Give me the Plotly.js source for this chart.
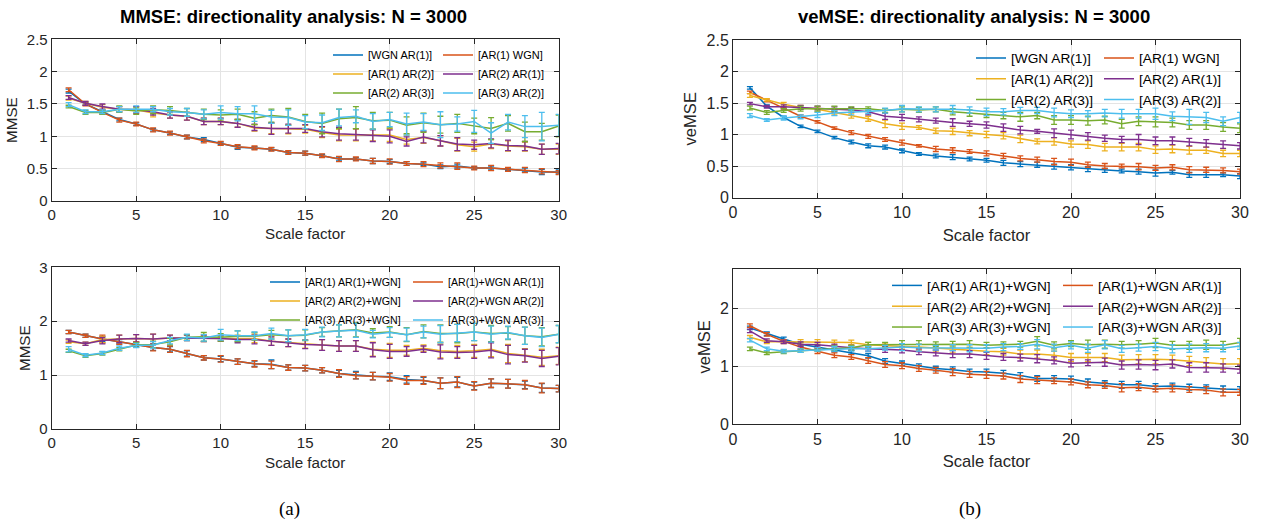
<!DOCTYPE html>
<html>
<head>
<meta charset="utf-8">
<script src="https://cdn.plot.ly/plotly-3.0.1.min.js"></script>
<style>html,body{margin:0;padding:0;background:#fff;}#chart{width:1261px;height:522px;}</style>
</head>
<body>
<div id="chart"></div>
<script>
// ---------- data ----------
const scaleFactor = [1,2,3,4,5,6,7,8,9,10,11,12,13,14,15,16,17,18,19,20,21,22,23,24,25,26,27,28,29,30];

const namesTop = ['[WGN AR(1)]','[AR(1) WGN]','[AR(1) AR(2)]','[AR(2) AR(1)]','[AR(2) AR(3)]','[AR(3) AR(2)]'];
const namesBottom = ['[AR(1) AR(1)+WGN]','[AR(1)+WGN AR(1)]','[AR(2) AR(2)+WGN]','[AR(2)+WGN AR(2)]','[AR(3) AR(3)+WGN]','[AR(3)+WGN AR(3)]'];

// MMSE, top (a)
const mmseTopBlue   = [1.70,1.50,1.38,1.26,1.19,1.10,1.05,0.99,0.95,0.89,0.83,0.82,0.80,0.75,0.74,0.70,0.65,0.65,0.62,0.61,0.58,0.57,0.53,0.54,0.51,0.51,0.49,0.48,0.45,0.45];
const mmseTopOrange = [1.72,1.50,1.37,1.25,1.19,1.10,1.05,0.99,0.93,0.89,0.84,0.82,0.80,0.75,0.74,0.70,0.65,0.65,0.62,0.61,0.58,0.57,0.55,0.54,0.51,0.51,0.49,0.48,0.46,0.44];
const mmseTopYellow = [1.59,1.51,1.45,1.42,1.41,1.36,1.33,1.31,1.23,1.23,1.20,1.13,1.12,1.11,1.11,1.06,1.02,1.02,1.02,1.02,0.95,0.98,0.93,0.87,0.84,0.88,0.85,0.84,0.80,0.80];
const mmseTopPurple = [1.60,1.51,1.46,1.42,1.41,1.38,1.33,1.31,1.23,1.23,1.20,1.14,1.12,1.12,1.12,1.07,1.04,1.03,1.01,1.00,0.92,0.99,0.93,0.88,0.87,0.89,0.86,0.85,0.80,0.81];
const mmseTopGreen  = [1.46,1.37,1.37,1.42,1.39,1.41,1.40,1.37,1.34,1.33,1.34,1.28,1.32,1.30,1.23,1.20,1.27,1.29,1.24,1.25,1.17,1.21,1.18,1.20,1.16,1.12,1.20,1.07,1.07,1.16];
const mmseTopCyan   = [1.49,1.38,1.38,1.42,1.42,1.42,1.38,1.37,1.34,1.37,1.35,1.35,1.30,1.29,1.22,1.21,1.29,1.31,1.23,1.26,1.19,1.22,1.18,1.19,1.23,1.05,1.22,1.15,1.15,1.17];
const mmseTopBlueErr   = [0.03,0.02,0.02,0.02,0.02,0.02,0.02,0.03,0.03,0.02,0.03,0.02,0.02,0.02,0.03,0.02,0.03,0.02,0.04,0.03,0.03,0.02,0.03,0.03,0.02,0.03,0.02,0.03,0.04,0.03];
const mmseTopOrangeErr = [0.03,0.03,0.03,0.03,0.03,0.03,0.03,0.03,0.03,0.03,0.03,0.03,0.03,0.03,0.03,0.03,0.04,0.03,0.04,0.04,0.03,0.04,0.04,0.05,0.03,0.04,0.03,0.04,0.04,0.03];
const mmseTopYellowErr = [0.03,0.03,0.04,0.04,0.05,0.06,0.05,0.06,0.05,0.05,0.06,0.05,0.08,0.07,0.06,0.08,0.09,0.09,0.09,0.10,0.07,0.09,0.08,0.10,0.07,0.07,0.08,0.07,0.08,0.08];
const mmseTopPurpleErr = [0.03,0.03,0.04,0.04,0.05,0.05,0.05,0.06,0.05,0.05,0.06,0.05,0.09,0.07,0.06,0.08,0.10,0.09,0.09,0.10,0.07,0.09,0.08,0.10,0.07,0.07,0.08,0.07,0.08,0.08];
const mmseTopGreenErr  = [0.02,0.03,0.03,0.05,0.05,0.06,0.06,0.06,0.08,0.08,0.08,0.10,0.10,0.13,0.11,0.16,0.15,0.17,0.13,0.12,0.13,0.15,0.13,0.14,0.12,0.17,0.12,0.15,0.13,0.17];
const mmseTopCyanErr   = [0.03,0.03,0.03,0.04,0.05,0.04,0.05,0.06,0.07,0.10,0.11,0.12,0.10,0.12,0.10,0.12,0.13,0.10,0.12,0.11,0.17,0.13,0.20,0.11,0.17,0.16,0.12,0.17,0.22,0.17];

// MMSE, bottom (a)
const mmseBotBlue   = [1.80,1.73,1.67,1.62,1.57,1.51,1.48,1.40,1.32,1.30,1.25,1.21,1.20,1.14,1.13,1.09,1.03,1.00,0.98,0.97,0.92,0.90,0.85,0.87,0.80,0.85,0.84,0.82,0.76,0.75];
const mmseBotOrange = [1.80,1.73,1.67,1.62,1.57,1.51,1.48,1.40,1.32,1.30,1.25,1.21,1.19,1.14,1.13,1.09,1.03,0.99,0.98,0.96,0.90,0.90,0.85,0.87,0.80,0.85,0.84,0.82,0.76,0.75];
const mmseBotYellow = [1.62,1.58,1.66,1.67,1.68,1.67,1.69,1.69,1.68,1.68,1.68,1.68,1.63,1.60,1.58,1.56,1.54,1.54,1.48,1.46,1.46,1.50,1.45,1.44,1.45,1.48,1.40,1.37,1.33,1.36];
const mmseBotPurple = [1.64,1.58,1.64,1.67,1.68,1.67,1.69,1.69,1.68,1.68,1.66,1.66,1.63,1.60,1.57,1.56,1.54,1.54,1.47,1.44,1.44,1.48,1.43,1.42,1.43,1.46,1.38,1.36,1.31,1.35];
const mmseBotGreen  = [1.45,1.36,1.40,1.48,1.56,1.57,1.62,1.70,1.71,1.70,1.72,1.72,1.75,1.73,1.74,1.80,1.82,1.84,1.78,1.80,1.75,1.81,1.77,1.77,1.80,1.77,1.78,1.73,1.71,1.76];
const mmseBotCyan   = [1.48,1.37,1.41,1.50,1.55,1.56,1.64,1.70,1.69,1.75,1.73,1.73,1.77,1.73,1.75,1.80,1.82,1.83,1.76,1.79,1.75,1.80,1.76,1.78,1.80,1.76,1.79,1.73,1.70,1.76];
const mmseBotBlueErr   = [0.03,0.03,0.05,0.04,0.04,0.05,0.05,0.05,0.04,0.05,0.05,0.05,0.08,0.05,0.05,0.05,0.06,0.07,0.07,0.07,0.07,0.06,0.10,0.09,0.07,0.08,0.08,0.07,0.08,0.06];
const mmseBotOrangeErr = [0.03,0.03,0.07,0.05,0.05,0.06,0.06,0.06,0.04,0.06,0.05,0.06,0.07,0.05,0.05,0.05,0.07,0.06,0.07,0.07,0.07,0.07,0.10,0.10,0.08,0.08,0.08,0.08,0.09,0.06];
const mmseBotYellowErr = [0.03,0.03,0.06,0.07,0.07,0.09,0.05,0.05,0.06,0.05,0.06,0.08,0.08,0.07,0.08,0.10,0.10,0.10,0.13,0.13,0.09,0.06,0.13,0.11,0.12,0.14,0.17,0.12,0.15,0.16];
const mmseBotPurpleErr = [0.03,0.03,0.06,0.07,0.07,0.09,0.05,0.05,0.06,0.05,0.06,0.08,0.08,0.07,0.08,0.10,0.10,0.10,0.13,0.13,0.09,0.06,0.13,0.11,0.12,0.14,0.17,0.12,0.15,0.16];
const mmseBotGreenErr  = [0.03,0.03,0.03,0.03,0.04,0.06,0.06,0.05,0.08,0.07,0.10,0.07,0.08,0.11,0.10,0.08,0.11,0.13,0.08,0.10,0.13,0.12,0.16,0.17,0.16,0.15,0.12,0.16,0.17,0.16];
const mmseBotCyanErr   = [0.05,0.03,0.03,0.04,0.04,0.06,0.06,0.06,0.06,0.10,0.09,0.07,0.10,0.11,0.10,0.09,0.11,0.13,0.07,0.09,0.12,0.11,0.16,0.16,0.16,0.15,0.12,0.16,0.17,0.16];

// veMSE, top (b)
const vemseTopBlue   = [1.74,1.45,1.27,1.13,1.05,0.95,0.88,0.82,0.80,0.74,0.69,0.66,0.64,0.61,0.59,0.55,0.53,0.52,0.49,0.48,0.45,0.43,0.42,0.41,0.39,0.40,0.36,0.36,0.36,0.34];
const vemseTopOrange = [1.67,1.54,1.41,1.29,1.20,1.10,1.03,0.97,0.92,0.87,0.82,0.77,0.75,0.73,0.70,0.66,0.62,0.60,0.57,0.56,0.52,0.50,0.50,0.49,0.47,0.48,0.44,0.44,0.43,0.41];
const vemseTopYellow = [1.62,1.55,1.48,1.43,1.40,1.35,1.30,1.25,1.17,1.13,1.11,1.06,1.05,1.02,1.00,0.98,0.93,0.89,0.89,0.85,0.84,0.80,0.80,0.80,0.76,0.77,0.75,0.75,0.70,0.70];
const vemseTopPurple = [1.49,1.44,1.44,1.43,1.42,1.40,1.39,1.36,1.29,1.27,1.24,1.22,1.19,1.17,1.15,1.11,1.07,1.05,1.02,1.00,0.97,0.94,0.92,0.92,0.90,0.90,0.88,0.86,0.84,0.82];
const vemseTopGreen  = [1.42,1.35,1.38,1.41,1.41,1.41,1.41,1.41,1.38,1.40,1.39,1.40,1.36,1.34,1.32,1.30,1.28,1.30,1.23,1.23,1.22,1.23,1.17,1.21,1.20,1.19,1.15,1.15,1.12,1.10];
const vemseTopCyan   = [1.30,1.23,1.26,1.28,1.31,1.34,1.35,1.36,1.38,1.41,1.40,1.40,1.40,1.39,1.36,1.36,1.38,1.38,1.35,1.33,1.33,1.34,1.33,1.33,1.33,1.29,1.28,1.27,1.21,1.27];
const vemseTopBlueErr   = [0.02,0.02,0.02,0.02,0.02,0.02,0.03,0.03,0.03,0.03,0.02,0.03,0.04,0.03,0.03,0.04,0.04,0.04,0.04,0.04,0.04,0.03,0.03,0.04,0.05,0.03,0.04,0.04,0.03,0.04];
const vemseTopOrangeErr = [0.02,0.02,0.02,0.02,0.02,0.02,0.03,0.03,0.03,0.04,0.02,0.04,0.04,0.03,0.04,0.04,0.04,0.04,0.05,0.05,0.04,0.04,0.03,0.05,0.04,0.04,0.05,0.04,0.04,0.04];
const vemseTopYellowErr = [0.03,0.02,0.03,0.03,0.04,0.04,0.04,0.04,0.06,0.05,0.03,0.04,0.05,0.04,0.05,0.05,0.06,0.04,0.06,0.05,0.06,0.06,0.06,0.06,0.06,0.06,0.06,0.05,0.05,0.05];
const vemseTopPurpleErr = [0.02,0.02,0.03,0.03,0.03,0.04,0.04,0.05,0.05,0.05,0.04,0.04,0.06,0.04,0.05,0.06,0.06,0.03,0.07,0.07,0.06,0.05,0.05,0.08,0.06,0.06,0.06,0.06,0.06,0.05];
const vemseTopGreenErr  = [0.03,0.03,0.03,0.04,0.04,0.04,0.03,0.03,0.03,0.04,0.04,0.04,0.05,0.05,0.05,0.05,0.07,0.05,0.07,0.07,0.07,0.06,0.07,0.07,0.08,0.07,0.07,0.07,0.07,0.07];
const vemseTopCyanErr   = [0.03,0.02,0.03,0.03,0.04,0.04,0.04,0.03,0.04,0.05,0.04,0.04,0.06,0.05,0.06,0.05,0.05,0.05,0.07,0.06,0.05,0.06,0.07,0.07,0.09,0.07,0.12,0.08,0.07,0.08];

// veMSE, bottom (b)
const vemseBotBlue   = [1.66,1.56,1.47,1.38,1.33,1.28,1.24,1.18,1.09,1.05,1.00,0.96,0.94,0.91,0.90,0.88,0.84,0.79,0.79,0.78,0.73,0.70,0.68,0.68,0.65,0.66,0.64,0.63,0.61,0.60];
const vemseBotOrange = [1.70,1.55,1.43,1.33,1.26,1.19,1.16,1.10,1.03,1.01,0.96,0.93,0.90,0.86,0.85,0.83,0.78,0.76,0.75,0.73,0.68,0.67,0.63,0.64,0.61,0.62,0.60,0.59,0.55,0.55];
const vemseBotYellow = [1.50,1.42,1.42,1.42,1.42,1.41,1.41,1.37,1.35,1.34,1.33,1.31,1.29,1.27,1.26,1.25,1.21,1.21,1.19,1.15,1.15,1.15,1.11,1.12,1.12,1.11,1.09,1.07,1.04,1.04];
const vemseBotPurple = [1.61,1.44,1.42,1.38,1.37,1.34,1.32,1.30,1.29,1.28,1.25,1.23,1.21,1.21,1.18,1.16,1.15,1.13,1.10,1.05,1.06,1.07,1.02,1.03,1.02,1.04,0.98,0.98,0.97,0.95];
const vemseBotGreen  = [1.30,1.23,1.25,1.27,1.29,1.31,1.32,1.37,1.37,1.38,1.38,1.38,1.38,1.38,1.36,1.37,1.38,1.43,1.36,1.39,1.37,1.38,1.37,1.38,1.40,1.36,1.36,1.37,1.36,1.41];
const vemseBotCyan   = [1.45,1.30,1.26,1.27,1.29,1.30,1.30,1.30,1.32,1.33,1.32,1.32,1.32,1.31,1.31,1.33,1.34,1.38,1.32,1.36,1.31,1.37,1.30,1.32,1.34,1.30,1.31,1.32,1.31,1.35];
const vemseBotBlueErr   = [0.03,0.03,0.03,0.03,0.03,0.03,0.03,0.04,0.04,0.04,0.04,0.04,0.05,0.04,0.05,0.05,0.05,0.05,0.05,0.05,0.05,0.05,0.06,0.06,0.05,0.05,0.05,0.05,0.05,0.05];
const vemseBotOrangeErr = [0.03,0.03,0.03,0.04,0.04,0.04,0.04,0.05,0.05,0.05,0.05,0.05,0.06,0.05,0.06,0.05,0.06,0.06,0.05,0.05,0.05,0.05,0.07,0.06,0.05,0.06,0.05,0.06,0.06,0.05];
const vemseBotYellowErr = [0.03,0.03,0.03,0.04,0.04,0.04,0.04,0.04,0.05,0.05,0.05,0.05,0.06,0.06,0.06,0.06,0.07,0.07,0.07,0.07,0.07,0.07,0.08,0.08,0.08,0.08,0.08,0.08,0.09,0.09];
const vemseBotPurpleErr = [0.03,0.03,0.03,0.04,0.04,0.04,0.04,0.04,0.05,0.05,0.05,0.05,0.06,0.06,0.06,0.06,0.06,0.07,0.06,0.06,0.05,0.07,0.07,0.08,0.08,0.07,0.08,0.08,0.07,0.07];
const vemseBotGreenErr  = [0.03,0.03,0.03,0.03,0.03,0.04,0.04,0.04,0.04,0.06,0.06,0.04,0.05,0.06,0.05,0.05,0.05,0.08,0.06,0.05,0.08,0.07,0.06,0.06,0.08,0.07,0.07,0.08,0.07,0.07];
const vemseBotCyanErr   = [0.03,0.03,0.03,0.03,0.03,0.04,0.04,0.04,0.04,0.06,0.06,0.04,0.05,0.06,0.06,0.06,0.05,0.08,0.06,0.06,0.07,0.07,0.06,0.06,0.07,0.07,0.07,0.07,0.06,0.06];

const colors = ['#0072BD','#D95319','#EDB120','#7E2F8E','#77AC30','#4DBEEE'];

// ---------- build ----------
const FONT = 'Liberation Sans, Arial, Helvetica, sans-serif';
const W = 1261, H = 522;
const px = v => v / W;
const py = v => 1 - v / H;

const panels = [
  {xa:'x',  ya:'y',  names:namesTop,    legs:['legend','legend2'],
   vals:[mmseTopBlue,mmseTopOrange,mmseTopYellow,mmseTopPurple,mmseTopGreen,mmseTopCyan],
   errs:[mmseTopBlueErr,mmseTopOrangeErr,mmseTopYellowErr,mmseTopPurpleErr,mmseTopGreenErr,mmseTopCyanErr]},
  {xa:'x2', ya:'y2', names:namesBottom, legs:['legend3','legend4'],
   vals:[mmseBotBlue,mmseBotOrange,mmseBotYellow,mmseBotPurple,mmseBotGreen,mmseBotCyan],
   errs:[mmseBotBlueErr,mmseBotOrangeErr,mmseBotYellowErr,mmseBotPurpleErr,mmseBotGreenErr,mmseBotCyanErr]},
  {xa:'x3', ya:'y3', names:namesTop,    legs:['legend5','legend6'],
   vals:[vemseTopBlue,vemseTopOrange,vemseTopYellow,vemseTopPurple,vemseTopGreen,vemseTopCyan],
   errs:[vemseTopBlueErr,vemseTopOrangeErr,vemseTopYellowErr,vemseTopPurpleErr,vemseTopGreenErr,vemseTopCyanErr]},
  {xa:'x4', ya:'y4', names:namesBottom, legs:['legend7','legend8'],
   vals:[vemseBotBlue,vemseBotOrange,vemseBotYellow,vemseBotPurple,vemseBotGreen,vemseBotCyan],
   errs:[vemseBotBlueErr,vemseBotOrangeErr,vemseBotYellowErr,vemseBotPurpleErr,vemseBotGreenErr,vemseBotCyanErr]}
];

const traces = [];
panels.forEach(p => {
  for (let i = 0; i < 6; i++) {
    traces.push({
      type:'scatter', mode:'lines', x:scaleFactor, y:p.vals[i], name:p.names[i],
      xaxis:p.xa, yaxis:p.ya, legend:p.legs[i % 2],
      line:{color:colors[i], width:1.5},
      error_y:{type:'data', array:p.errs[i], visible:true, color:colors[i], thickness:1.3, width:3},
      hoverinfo:'x+y+name'
    });
  }
});

function xAxis(dom, anchor, fs, tfs, so) {
  return {domain:dom, anchor:anchor, range:[0,30], dtick:5, tick0:0,
    showline:true, mirror:'ticks', linecolor:'#262626', linewidth:1,
    ticks:'inside', ticklen:5, tickcolor:'#262626', tickwidth:1,
    showgrid:true, gridcolor:'#e4e4e4', gridwidth:1, zeroline:false,
    tickfont:{family:FONT, size:fs, color:'#262626'},
    title:{text:'Scale factor', font:{family:FONT, size:tfs, color:'#262626'}, standoff:so},
    automargin:false, fixedrange:true};
}
function yAxis(dom, anchor, range, dtick, title, fs, tfs) {
  return {domain:dom, anchor:anchor, range:range, dtick:dtick, tick0:0,
    showline:true, mirror:'ticks', linecolor:'#262626', linewidth:1,
    ticks:'inside', ticklen:5, tickcolor:'#262626', tickwidth:1,
    showgrid:true, gridcolor:'#e4e4e4', gridwidth:1, zeroline:false,
    tickfont:{family:FONT, size:fs, color:'#262626'},
    title:{text:title, font:{family:FONT, size:tfs, color:'#262626'}, standoff:5},
    automargin:false, fixedrange:true};
}

const xL = [px(51.7), px(558.7)];
const xR = [px(733), px(1240)];

function leg(xpix, ypix, fs) {
  return {x:px(xpix), y:py(ypix), xanchor:'left', yanchor:'top', orientation:'v',
    bgcolor:'rgba(255,255,255,0)', borderwidth:0, font:{family:FONT, size:fs, color:'#000000'}};
}

const layout = {
  width:W, height:H, margin:{l:0, r:0, t:0, b:0},
  paper_bgcolor:'#ffffff', plot_bgcolor:'#ffffff',
  font:{family:FONT, color:'#262626'},
  showlegend:true,
  xaxis:  xAxis(xL, 'y', 15, 15.2, 6),
  yaxis:  yAxis([py(201), py(39.3)], 'x', [0,2.5], 0.5, 'MMSE', 15, 15.2),
  xaxis2: xAxis(xL, 'y2', 15, 15.2, 7),
  yaxis2: yAxis([py(429), py(267.3)], 'x2', [0,3], 1, 'MMSE', 15, 15.2),
  xaxis3: xAxis(xR, 'y3', 16, 16.6, 9),
  yaxis3: yAxis([py(197.5), py(40)], 'x3', [0,2.5], 0.5, 'veMSE', 16, 16.6),
  xaxis4: xAxis(xR, 'y4', 16, 16.6, 8),
  yaxis4: yAxis([py(424.3), py(269.3)], 'x4', [0,2.67], 1, 'veMSE', 16, 16.6),
  legend:  leg(328, 40.5, 11),
  legend2: leg(438, 40.5, 11),
  legend3: leg(265, 267.5, 10.6),
  legend4: leg(408, 267.5, 10.6),
  legend5: leg(971, 42.5, 13.7),
  legend6: leg(1099, 42.5, 13.7),
  legend7: leg(887, 270, 13.7),
  legend8: leg(1058, 270, 13.7),
  annotations:[
    {text:'<b>MMSE: directionality analysis: N = 3000</b>', xref:'paper', yref:'paper',
     x:px(293.7), y:py(16), xanchor:'center', yanchor:'middle', showarrow:false,
     font:{family:FONT, size:18.5, color:'#000000'}},
    {text:'<b>veMSE: directionality analysis: N = 3000</b>', xref:'paper', yref:'paper',
     x:px(974), y:py(16), xanchor:'center', yanchor:'middle', showarrow:false,
     font:{family:FONT, size:18.5, color:'#000000'}},
    {text:'(a)', xref:'paper', yref:'paper', x:px(289), y:py(509), xanchor:'center', yanchor:'middle',
     showarrow:false, font:{family:'Liberation Serif, Times New Roman, serif', size:19, color:'#000000'}},
    {text:'(b)', xref:'paper', yref:'paper', x:px(970), y:py(509), xanchor:'center', yanchor:'middle',
     showarrow:false, font:{family:'Liberation Serif, Times New Roman, serif', size:19, color:'#000000'}}
  ]
};

Plotly.newPlot('chart', traces, layout, {staticPlot:true, displayModeBar:false});
</script>
</body>
</html>
